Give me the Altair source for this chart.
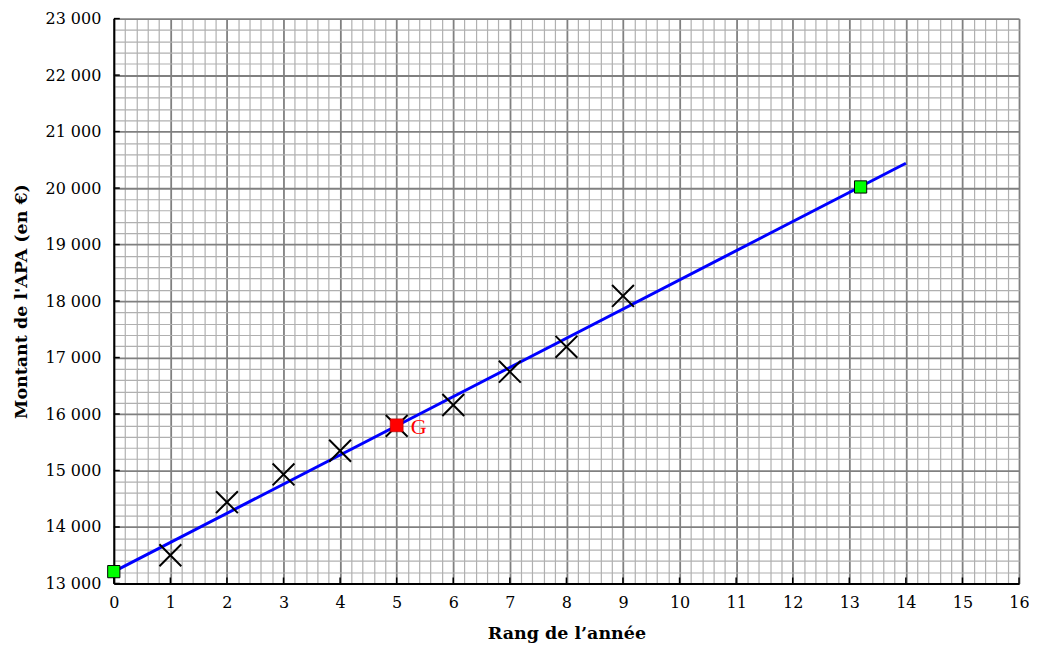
import altair as alt
import pandas as pd

# Data
rang = [1, 2, 3, 4, 5, 6, 7, 8, 9]
montant = [13500, 14440, 14930, 15350, 15790, 16160, 16750, 17190, 18090]

droite_x = [0, 14]
droite_y = [13210, 20440]

verts_x = [0, 13.2]
verts_y = [13210, 20020]

g_x = [5]
g_y = [15800]
g_label = ["G"]

x_minor = [round(i * 0.2, 6) for i in range(0, 81)]
y_minor = [13000 + i * 200 for i in range(0, 51)]
x_major = list(range(0, 17))
y_major = list(range(13000, 23001, 1000))

FONT = "DejaVu Serif"
W, H = 907, 566

pts = pd.DataFrame({"x": rang, "y": montant})
line_df = pd.DataFrame({"x": droite_x, "y": droite_y})
green_df = pd.DataFrame({"x": verts_x, "y": verts_y})
g_df = pd.DataFrame({"x": g_x, "y": g_y, "label": g_label})
xt_df = pd.DataFrame({"x": x_major})
yt_df = pd.DataFrame({"y": y_major})

xscale = alt.Scale(domain=[0, 16], nice=False, zero=False)
yscale = alt.Scale(domain=[13000, 23000], nice=False, zero=False)

xaxis = alt.Axis(
    values=x_minor,
    title="Rang de l’année",
    titleFont=FONT, titleFontSize=17.5, titleFontWeight="bold", titleColor="black",
    titlePadding=14,
    labelFont=FONT, labelFontSize=16, labelColor="black", labelPadding=11,
    labelExpr="datum.value % 1 === 0 ? format(datum.value, 'd') : ''",
    labelOverlap=False, labelFlush=False,
    ticks=False,
    domainColor="black", domainWidth=2,
    grid=True,
    gridColor={"condition": {"test": "datum.value % 1 === 0", "value": "#808080"}, "value": "#b0b0b0"},
    gridWidth={"condition": {"test": "datum.value % 1 === 0", "value": 1.8}, "value": 1.2},
    gridOpacity=1,
)
yaxis = alt.Axis(
    values=y_minor,
    title="Montant de l'APA (en €)",
    titleFont=FONT, titleFontSize=17.5, titleFontWeight="bold", titleColor="black",
    titlePadding=14,
    labelFont=FONT, labelFontSize=16, labelColor="black", labelPadding=13,
    labelExpr="datum.value % 1000 === 0 ? replace(format(datum.value, ','), ',', ' ') : ''",
    labelOverlap=False, labelFlush=False,
    ticks=False,
    domainColor="black", domainWidth=2,
    grid=True,
    gridColor={"condition": {"test": "datum.value % 1000 === 0", "value": "#808080"}, "value": "#b0b0b0"},
    gridWidth={"condition": {"test": "datum.value % 1000 === 0", "value": 1.8}, "value": 1.2},
    gridOpacity=1,
)

X = lambda: alt.X("x:Q", scale=xscale, axis=xaxis)
Y = lambda: alt.Y("y:Q", scale=yscale, axis=yaxis)

base_line = alt.Chart(line_df).mark_line(color="#0000ff", strokeWidth=3).encode(x=X(), y=Y())

xticks = alt.Chart(xt_df).mark_rule(color="black", strokeWidth=1.5).encode(
    x=X(),
    y=alt.value(H),
    y2=alt.value(H - 6),
)
yticks = alt.Chart(yt_df).mark_rule(color="black", strokeWidth=1.5).encode(
    y=Y(),
    x=alt.value(0),
    x2=alt.value(6),
)

crosses = alt.Chart(pts).mark_point(
    shape="M-1,-1L1,1M-1,1L1,-1", size=480, strokeWidth=2, color="black", filled=False, opacity=1
).encode(x=X(), y=Y())

greens = alt.Chart(green_df).mark_point(
    shape="square", size=150, fill="#00ff00", stroke="black", strokeWidth=1, filled=True, opacity=1
).encode(x=X(), y=Y())

gpt = alt.Chart(g_df).mark_point(
    shape="square", size=170, fill="#ff0000", stroke="#990000", strokeWidth=0.5, filled=True, opacity=1
).encode(x=X(), y=Y())

glabel = alt.Chart(g_df).mark_text(
    color="#ff0000", font="Liberation Serif", fontSize=22, align="left", baseline="middle", dx=14, dy=2
).encode(x=X(), y=Y(), text="label:N")

chart = alt.layer(base_line, xticks, yticks, crosses, greens, gpt, glabel).properties(
    width=W, height=H,
    autosize=alt.AutoSizeParams(type="none"),
    padding={"left": 106, "top": 10, "right": 10, "bottom": 60},
).configure_view(stroke=None)

chart.save("out.html", embed_options={"renderer": "svg", "actions": False})
